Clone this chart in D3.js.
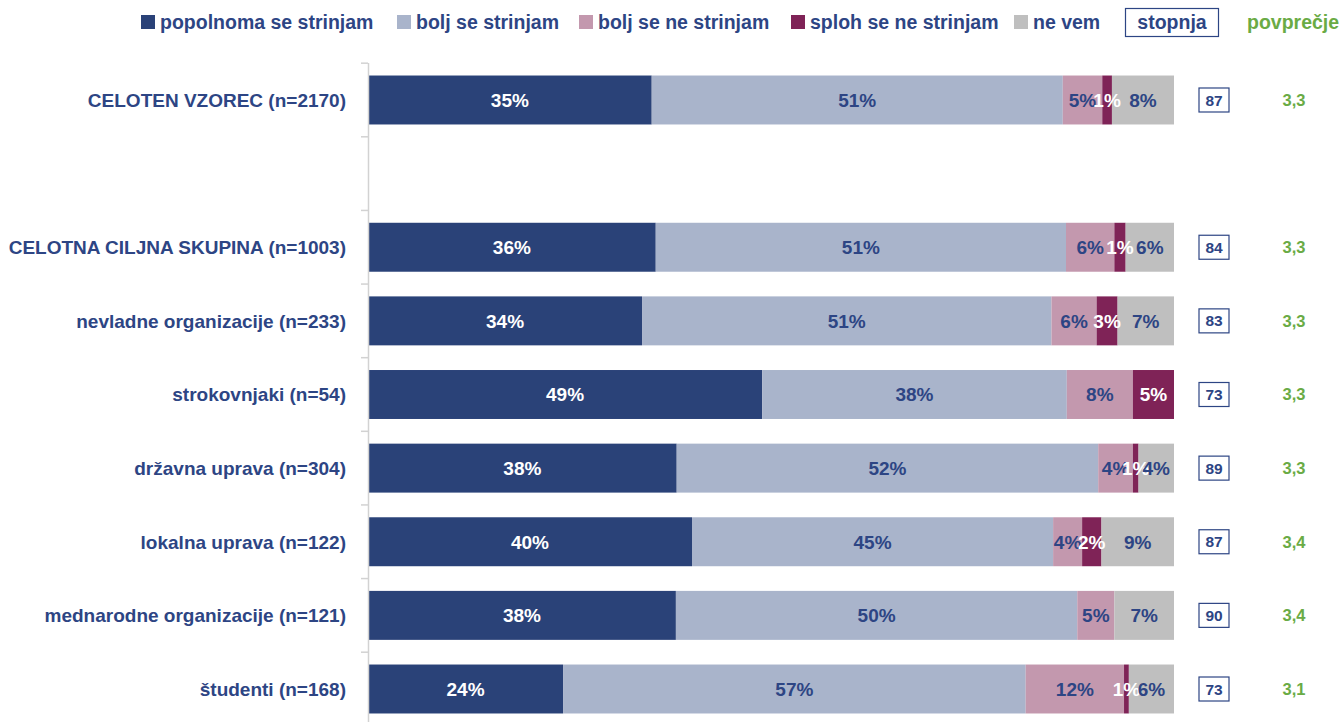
<!DOCTYPE html>
<html>
<head>
<meta charset="utf-8">
<script src="https://cdn.jsdelivr.net/npm/d3@7"></script>
<style>
  body { margin: 0; background: #fff; }
  text { font-family: "Liberation Sans", Arial, sans-serif; font-weight: bold; }
</style>
</head>
<body>
<svg width="1343" height="722"></svg>
<script>
'use strict';

// categories top to bottom, '' is the empty gap row
var categories = [
    'CELOTEN VZOREC (n=2170)',
    '',
    'CELOTNA CILJNA SKUPINA (n=1003)',
    'nevladne organizacije (n=233)',
    'strokovnjaki (n=54)',
    'državna uprava (n=304)',
    'lokalna uprava (n=122)',
    'mednarodne organizacije (n=121)',
    'študenti (n=168)'
];

var seriesNames = ['popolnoma se strinjam', 'bolj se strinjam', 'bolj se ne strinjam', 'sploh se ne strinjam', 'ne vem'];

// shares in % (null = gap row)
var popolnoma = [35.2, null, 35.7, 34.0, 48.9, 38.3, 40.2, 38.2, 24.2];
var boljSe    = [51.0, null, 50.9, 50.8, 37.8, 52.3, 44.8, 49.8, 57.4];
var boljNe    = [ 4.9, null,  6.0,  5.6,  8.2,  4.3,  3.6,  4.6, 12.2];
var splohNe   = [ 1.2, null,  1.4,  2.6,  5.1,  0.7,  2.4,  0.0,  0.6];
var neVem     = [ 7.7, null,  6.0,  7.0,  0.0,  4.4,  9.0,  7.4,  5.6];

var stopnja   = [87, null, 84, 83, 73, 89, 87, 90, 73];
var povprecje = ['3,3', null, '3,3', '3,3', '3,3', '3,3', '3,4', '3,4', '3,1'];

var colors = ['#2a4278', '#a9b4cb', '#c398ae', '#7f2357', '#bfbfbf'];
var labelColors = ['#ffffff', '#2d4584', '#2d4584', '#ffffff', '#2d4584'];
var navy = '#2d4584';
var green = '#6aab45';

var svg = d3.select('svg');

var x = d3.scaleLinear().domain([0, 100]).range([368, 1174]);
var y = d3.scaleBand().domain(d3.range(categories.length)).range([63, 726]).paddingInner(0.335).paddingOuter(0.17);

// build stacked rows
var rows = categories.map(function(c, i) {
    return { i: i, cat: c, vals: [popolnoma[i], boljSe[i], boljNe[i], splohNe[i], neVem[i]] };
}).filter(function(r) { return r.cat !== ''; });

var segs = [];
rows.forEach(function(r) {
    var acc = 0;
    r.vals.forEach(function(v, k) {
        if (v > 0) segs.push({ i: r.i, k: k, x0: acc, x1: acc + v, v: v });
        acc += v;
    });
});

svg.append('g').selectAll('rect')
    .data(segs)
    .enter().append('rect')
        .attr('x', function(d) { return x(d.x0); })
        .attr('width', function(d) { return x(d.x1) - x(d.x0); })
        .attr('y', function(d) { return y(d.i); })
        .attr('height', y.bandwidth())
        .attr('fill', function(d) { return colors[d.k]; });

svg.append('g').selectAll('text')
    .data(segs)
    .enter().append('text')
        .attr('x', function(d) { return (x(d.x0) + x(d.x1)) / 2; })
        .attr('y', function(d) { return y(d.i) + y.bandwidth() / 2; })
        .attr('dy', '0.36em')
        .attr('text-anchor', 'middle')
        .attr('font-size', 19)
        .attr('fill', function(d) { return labelColors[d.k]; })
        .text(function(d) { return Math.round(d.v) + '%'; });

// left axis with boundary ticks
var axisG = svg.append('g');
axisG.append('line')
    .attr('x1', 368.5).attr('x2', 368.5)
    .attr('y1', 63).attr('y2', 722)
    .attr('stroke', '#d2d2d2').attr('stroke-width', 1.5);
axisG.selectAll('.tick')
    .data(d3.range(categories.length))
    .enter().append('line')
        .attr('x1', 361).attr('x2', 368)
        .attr('y1', function(d) { return y(d) - y.step() * y.paddingInner() / 2; })
        .attr('y2', function(d) { return y(d) - y.step() * y.paddingInner() / 2; })
        .attr('stroke', '#d2d2d2').attr('stroke-width', 1.5);

svg.append('g').selectAll('text')
    .data(rows)
    .enter().append('text')
        .attr('x', 346)
        .attr('y', function(d) { return y(d.i) + y.bandwidth() / 2; })
        .attr('dy', '0.36em')
        .attr('text-anchor', 'end')
        .attr('font-size', 19)
        .attr('fill', navy)
        .text(function(d) { return d.cat; });

// stopnja boxes
var boxG = svg.append('g').selectAll('g')
    .data(rows)
    .enter().append('g')
        .attr('transform', function(d) { return 'translate(1214,' + (y(d.i) + y.bandwidth() / 2) + ')'; });
boxG.append('rect')
    .attr('x', -15).attr('y', -12).attr('width', 30).attr('height', 24)
    .attr('fill', '#fff').attr('stroke', navy).attr('stroke-width', 1.2);
boxG.append('text')
    .attr('text-anchor', 'middle').attr('dy', '0.36em')
    .attr('font-size', 15.5).attr('fill', navy)
    .text(function(d) { return stopnja[d.i]; });

svg.append('g').selectAll('text')
    .data(rows)
    .enter().append('text')
        .attr('x', 1294)
        .attr('y', function(d) { return y(d.i) + y.bandwidth() / 2; })
        .attr('dy', '0.36em')
        .attr('text-anchor', 'middle')
        .attr('font-size', 16.5)
        .attr('fill', green)
        .text(function(d) { return povprecje[d.i]; });

// legend
var legendX = [141, 397, 579, 791, 1014];
var leg = svg.append('g').selectAll('g')
    .data(seriesNames)
    .enter().append('g')
        .attr('transform', function(d, i) { return 'translate(' + legendX[i] + ',22)'; });
leg.append('rect')
    .attr('x', 0).attr('y', -7).attr('width', 14).attr('height', 14)
    .attr('fill', function(d, i) { return colors[i]; });
leg.append('text')
    .attr('x', 19).attr('dy', '0.36em')
    .attr('font-size', 19.5).attr('fill', navy)
    .text(function(d) { return d; });

svg.append('rect')
    .attr('x', 1125.5).attr('y', 8.5).attr('width', 93).attr('height', 28)
    .attr('fill', '#fff').attr('stroke', navy).attr('stroke-width', 1.2);
svg.append('text')
    .attr('x', 1172).attr('y', 22).attr('dy', '0.36em')
    .attr('text-anchor', 'middle').attr('font-size', 19.5).attr('fill', navy)
    .text('stopnja');
svg.append('text')
    .attr('x', 1247).attr('y', 22).attr('dy', '0.36em')
    .attr('font-size', 19.5).attr('fill', green)
    .text('povprečje');
</script>
</body>
</html>
